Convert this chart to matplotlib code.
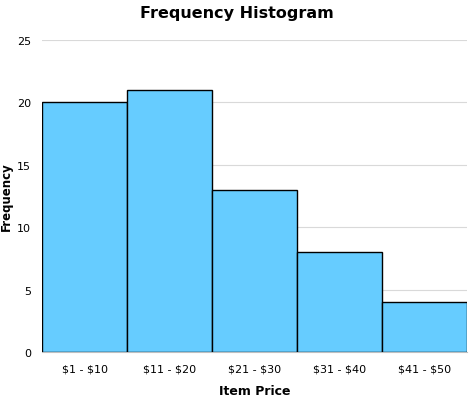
import matplotlib.pyplot as plt
import numpy as np

categorias = [r"\$1 - \$10", r"\$11 - \$20", r"\$21 - \$30", r"\$31 - \$40", r"\$41 - \$50"]
frecuencias = [20, 21, 13, 8, 4]

fig = plt.figure(figsize=(4.74, 4.02), dpi=100)
ax = fig.add_axes([0.089, 0.122, 0.896, 0.776])

x = np.arange(len(categorias))
ax.bar(x, frecuencias, width=1.0, color="#66CCFF", edgecolor="black", linewidth=1.0, zorder=3)

ax.set_xlim(-0.5, len(categorias) - 0.5)
ax.set_ylim(0, 25)
ax.set_yticks([0, 5, 10, 15, 20, 25])
ax.set_xticks(x)
ax.set_xticklabels(categorias, fontsize=8)
ax.tick_params(axis="y", labelsize=8, length=0, pad=8)
ax.tick_params(axis="x", length=0, pad=8)
ax.grid(axis="y", color="#d9d9d9", linewidth=0.8, zorder=0)
for s in ["top", "right", "left"]:
    ax.spines[s].set_visible(False)
ax.spines["bottom"].set_color("#bfbfbf")

ax.set_xlabel("Item Price", fontsize=9, fontweight="bold", labelpad=8)
ax.set_ylabel("Frequency", fontsize=8.5, fontweight="bold", labelpad=3)
fig.suptitle("Frequency Histogram", fontsize=11.5, fontweight="bold", y=0.985)

fig.savefig("out.png", dpi=100)
